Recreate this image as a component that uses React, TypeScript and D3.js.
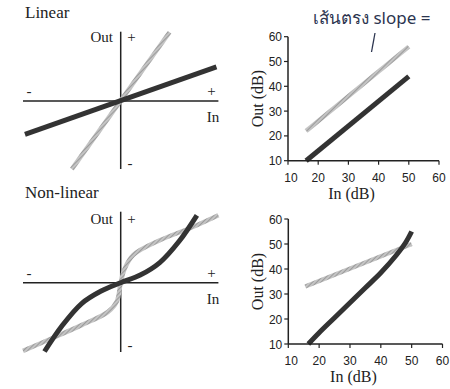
import React from "react";
import * as d3 from "d3";

// ---- Data ----
// Schematic panels (arbitrary units, -1..1)
const linBlackX = [-0.98, 0.98];
const linBlackY = [-0.48, 0.49];
const linGrayX = [-0.5, 0.5];
const linGrayY = [-0.98, 0.99];

const nlBlackX = [-0.78, -0.6, -0.4, -0.2, 0, 0.2, 0.4, 0.6, 0.78];
const nlBlackY = [-0.99, -0.62, -0.3, -0.12, 0, 0.11, 0.29, 0.6, 0.97];
const nlGrayX = [-1.0, -0.72, -0.4, -0.13, -0.04, 0, 0.04, 0.13, 0.4, 0.72, 1.0];
const nlGrayY = [-0.98, -0.81, -0.61, -0.42, -0.27, 0, 0.2, 0.4, 0.61, 0.79, 0.97];

// dB panels
const dbTicks = [10, 20, 30, 40, 50, 60];
const linDbGrayIn = [16, 50];
const linDbGrayOut = [22, 56];
const linDbBlackIn = [16, 50];
const linDbBlackOut = [10, 44];
const nlDbGrayIn = [15.5, 50];
const nlDbGrayOut = [33, 50];
const nlDbBlackIn = [16.5, 20, 25, 30, 35, 40, 45, 48, 50];
const nlDbBlackOut = [10, 14.5, 20.5, 26.5, 32.5, 38.5, 45.5, 50.5, 55];

const serif = "'Liberation Serif', 'Times New Roman', serif";
const sans = "'Liberation Sans', Arial, sans-serif";
const BLACK = "#333";

type Sch = {
  y0: number; yTop: number; yBot: number;
  blackX: number[]; blackY: number[]; grayX: number[]; grayY: number[];
  curve: any; title: string; titleY: number;
};

function Schematic({ y0, yTop, yBot, blackX, blackY, grayX, grayY, curve, title, titleY }: Sch) {
  const x = d3.scaleLinear().domain([-1, 1]).range([23, 218.4]);
  const half = 69.5;
  const y = d3.scaleLinear().domain([-1, 1]).range([y0 + half, y0 - half]);
  const line = (xs: number[], ys: number[]) =>
    d3.line<number>().x((_, i) => x(xs[i])).y((_, i) => y(ys[i])).curve(curve)(xs) || "";
  const cx = x(0);
  return (
    <g>
      <text x={25} y={titleY} fontFamily={serif} fontSize={17} fill="#222">{title}</text>
      <line x1={x(-1)} x2={x(1)} y1={y(0)} y2={y(0)} stroke="#222" strokeWidth={1.5} />
      <line x1={cx} x2={cx} y1={yTop} y2={yBot} stroke="#222" strokeWidth={1.5} />
      <path d={line(grayX, grayY)} fill="none" stroke="url(#hatch)" strokeWidth={4.5} />
      <path d={line(blackX, blackY)} fill="none" stroke={BLACK} strokeWidth={5} />
      <g fontFamily={serif} fontSize={15} fill="#222">
        <text x={113} y={y0 - 59} textAnchor="end">Out</text>
        <text x={131.5} y={y0 - 59} textAnchor="middle">+</text>
        <text x={29} y={y0 - 5} textAnchor="middle">-</text>
        <text x={211.5} y={y0 - 5} textAnchor="middle">+</text>
        <text x={213} y={y0 + 21} textAnchor="middle">In</text>
        <text x={130} y={y0 + 67} textAnchor="middle">-</text>
      </g>
    </g>
  );
}

type DbP = {
  x0: number; x1: number; yB: number; yT: number;
  grayIn: number[]; grayOut: number[]; blackIn: number[]; blackOut: number[];
  curve: any;
};

function DbPanel({ x0, x1, yB, yT, grayIn, grayOut, blackIn, blackOut, curve }: DbP) {
  const x = d3.scaleLinear().domain([10, 60]).range([x0, x1]);
  const y = d3.scaleLinear().domain([10, 60]).range([yB, yT]);
  const line = (xs: number[], ys: number[]) =>
    d3.line<number>().x((_, i) => x(xs[i])).y((_, i) => y(ys[i])).curve(curve)(xs) || "";
  return (
    <g>
      <path d={line(grayIn, grayOut)} fill="none" stroke="url(#hatch)" strokeWidth={4.5} />
      <path d={line(blackIn, blackOut)} fill="none" stroke={BLACK} strokeWidth={5} />
      <line x1={x0} x2={x1} y1={yB} y2={yB} stroke="#222" strokeWidth={1.5} />
      <line x1={x0} x2={x0} y1={yB} y2={yT} stroke="#222" strokeWidth={1.5} />
      {dbTicks.map((t) => (
        <g key={"x" + t}>
          <line x1={x(t)} x2={x(t)} y1={yB} y2={yB + 4} stroke="#222" strokeWidth={1.2} />
          <text x={x(t) + (t === 10 ? 3 : 0)} y={yB + 21} textAnchor="middle" fontFamily={sans} fontSize={12} fill="#222">{t}</text>
        </g>
      ))}
      {dbTicks.map((t) => (
        <g key={"y" + t}>
          <line x1={x0} x2={x0 - 4} y1={y(t)} y2={y(t)} stroke="#222" strokeWidth={1.2} />
          <text x={x0 - 6} y={y(t) + 4.5} textAnchor="end" fontFamily={sans} fontSize={12} fill="#222">{t}</text>
        </g>
      ))}
      <text x={(x0 + x1) / 2 - 12} y={yB + 38} textAnchor="middle" fontFamily={serif} fontSize={16} fill="#222">In (dB)</text>
      <text transform={`translate(${x0 - 25},${(yB + yT) / 2}) rotate(-90)`} textAnchor="middle" fontFamily={serif} fontSize={16} fill="#222">Out (dB)</text>
    </g>
  );
}

export default function App() {
  return (
    <svg width={450} height={389} style={{ position: "absolute", left: 0, top: 0, background: "#fff" }}>
      <defs>
        <pattern id="hatch" patternUnits="userSpaceOnUse" width={3} height={3} patternTransform="rotate(45)">
          <rect width={3} height={3} fill="#c4c4c4" />
          <line x1={0} y1={0} x2={0} y2={3} stroke="#8a8a8a" strokeWidth={1.4} />
        </pattern>
      </defs>
      <rect width={450} height={389} fill="#fff" />
      <Schematic y0={101} yTop={31.7} yBot={169} blackX={linBlackX} blackY={linBlackY}
        grayX={linGrayX} grayY={linGrayY} curve={d3.curveLinear} title="Linear" titleY={18} />
      <Schematic y0={282.7} yTop={211.7} yBot={352} blackX={nlBlackX} blackY={nlBlackY}
        grayX={nlGrayX} grayY={nlGrayY} curve={d3.curveCatmullRom} title="Non-linear" titleY={198} />
      <DbPanel x0={288} x1={439} yB={160.7} yT={36.7} grayIn={linDbGrayIn} grayOut={linDbGrayOut}
        blackIn={linDbBlackIn} blackOut={linDbBlackOut} curve={d3.curveLinear} />
      <DbPanel x0={288.3} x1={442.5} yB={344} yT={219} grayIn={nlDbGrayIn} grayOut={nlDbGrayOut}
        blackIn={nlDbBlackIn} blackOut={nlDbBlackOut} curve={d3.curveCatmullRom} />
      <text x={313} y={24} fontFamily="'Noto Sans', sans-serif" fontSize={17} fill="#2c3550">เส้นตรง slope =</text>
      <path d="M375,33 L371.5,52" stroke="#2c3550" strokeWidth={1.3} fill="none" />
    </svg>
  );
}
